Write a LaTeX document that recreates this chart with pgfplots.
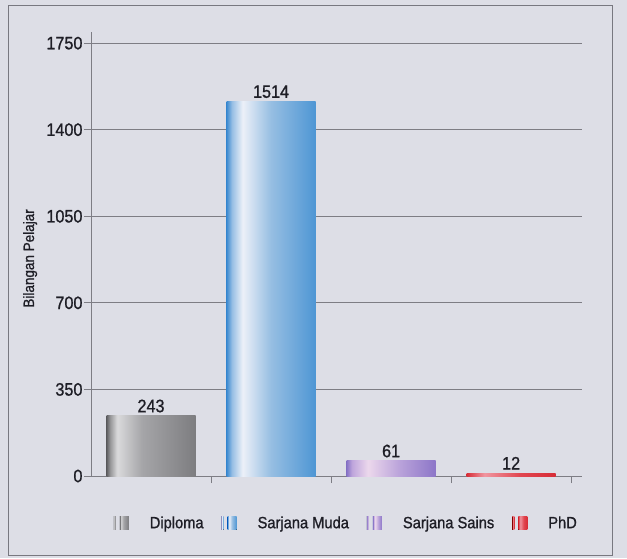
\documentclass[border=0pt]{standalone}
\usepackage{pgfplots}
\pgfplotsset{compat=1.18}
\usepackage{fontspec}
\setmainfont{Liberation Sans}[FakeStretch=0.9, FakeBold=1.0]

\definecolor{bg}{RGB}{221,222,230}
\definecolor{framec}{RGB}{120,120,128}
\definecolor{gridc}{RGB}{125,125,132}
\definecolor{txt}{RGB}{30,30,38}
% Diploma greys
\definecolor{dga}{RGB}{95,95,98}
\definecolor{dgb}{RGB}{150,150,152}
\definecolor{dgc}{RGB}{218,218,220}
\definecolor{dgd}{RGB}{165,165,168}
\definecolor{dge}{RGB}{125,125,128}
% Sarjana Muda blues
\definecolor{sma}{RGB}{60,138,208}
\definecolor{smb}{RGB}{150,190,228}
\definecolor{smc}{RGB}{236,240,248}
\definecolor{smd}{RGB}{150,190,226}
\definecolor{sme}{RGB}{78,150,212}
% Sarjana Sains purples
\definecolor{ssa}{RGB}{135,115,198}
\definecolor{ssb}{RGB}{190,165,220}
\definecolor{ssc}{RGB}{236,216,236}
\definecolor{ssd}{RGB}{185,162,218}
\definecolor{sse}{RGB}{140,118,200}
% PhD reds
\definecolor{pha}{RGB}{215,45,55}
\definecolor{phb}{RGB}{240,150,160}
\definecolor{phc}{RGB}{225,70,80}

\pgfdeclarehorizontalshading{dipl}{100bp}{color(0bp)=(dga); color(25bp)=(dga); color(27bp)=(dgb); color(31bp)=(dgc); color(45bp)=(dgd); color(75bp)=(dge); color(100bp)=(dge)}
\pgfdeclarehorizontalshading{smuda}{100bp}{color(0bp)=(sma); color(25bp)=(sma); color(28bp)=(smb); color(34bp)=(smc); color(50bp)=(smd); color(75bp)=(sme); color(100bp)=(sme)}
\pgfdeclarehorizontalshading{ssains}{100bp}{color(0bp)=(ssa); color(25bp)=(ssa); color(28bp)=(ssb); color(37bp)=(ssc); color(55bp)=(ssd); color(75bp)=(sse); color(100bp)=(sse)}
\pgfdeclarehorizontalshading{phd}{100bp}{color(0bp)=(pha); color(25bp)=(pha); color(35bp)=(phb); color(55bp)=(phc); color(75bp)=(pha); color(100bp)=(pha)}

\newcommand{\tf}{\fontsize{18}{21}\selectfont}
\newcommand{\lf}{\fontsize{16.3}{19}\selectfont}
\newcommand{\yf}{\fontsize{15}{18}\selectfont}

\begin{document}
\begin{tikzpicture}
\fill[bg] (0pt,0pt) rectangle (627pt,558pt);
\draw[framec, line width=1pt] (8pt,3pt) rectangle (612pt,552pt);
\begin{axis}[
  at={(91pt,82pt)}, anchor=south west,
  scale only axis, width=491pt, height=444pt,
  xmin=-0.5, xmax=3.59, ymin=0, ymax=1795,
  ytick={0,350,700,1050,1400,1750},
  xtick={0.5,1.5,2.5,3.5}, xticklabels={},
  axis x line*=bottom, axis y line*=left,
  axis line style={gridc, line width=0.8pt, -},
  x tick style={gridc, line width=0.8pt}, y tick style={gridc, line width=0.8pt},
  xtick align=center, ytick align=outside,
  major tick length=7pt,
  ymajorgrids, grid style={gridc, line width=0.8pt},
  /pgf/number format/assume math mode=true,
  /pgf/number format/set thousands separator={},
  tick label style={font=\tf, text=txt},
  yticklabel style={xshift=2pt},
  ylabel={Bilangan Pelajar},
  every axis y label/.style={at={(axis description cs:-0.124,0.49)}, rotate=90, anchor=center, font=\yf, text=txt},
  ybar, bar width=89pt,
  nodes near coords,
  every node near coord/.append style={font=\tf, text=txt, anchor=south, yshift=0pt},
  clip=false,
  legend columns=4,
  legend style={at={(0.52,-0.106)}, anchor=center, draw=none, fill=none, font=\lf, text=txt,
    /tikz/every odd column/.append style={column sep=19pt},
    /tikz/every even column/.append style={column sep=16pt}},
  legend image code/.code={
    \fill[#1] (0pt,-6.5pt) rectangle (2pt,6.5pt);
    \fill[#1] (6pt,-6.5pt) rectangle (15pt,6.5pt);
  },
]
\addplot[bar shift=0pt, draw=none, shading=dipl] coordinates {(0,243)};
\addplot[bar shift=0pt, draw=none, shading=smuda] coordinates {(1,1514)};
\addplot[bar shift=0pt, draw=none, shading=ssains] coordinates {(2,61)};
\addplot[bar shift=0pt, draw=none, shading=phd] coordinates {(3,12)};
\legend{Diploma, Sarjana Muda, Sarjana Sains, PhD}
\end{axis}
\end{tikzpicture}
\end{document}
